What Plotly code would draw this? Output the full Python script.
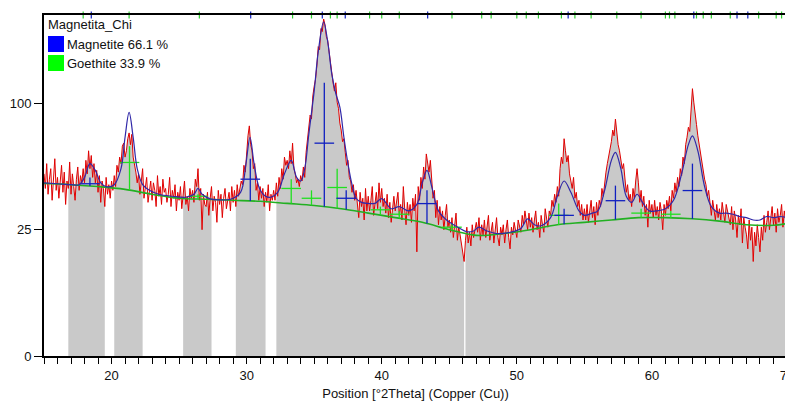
import numpy as np
import plotly.graph_objects as go

# ---------------- data ----------------
x_start, x_step = 15.0, 0.1
obs_counts = [
    52, 44, 58, 41, 49, 55, 38, 47, 61, 43,
    50, 39, 46, 57, 42, 53, 36, 48, 44, 59,
    41, 52, 45, 38, 49, 56, 43, 51, 47, 55,
    47, 60, 52, 66, 55, 63, 50, 58, 47, 54,
    42, 51, 37, 48, 44, 35, 50, 41, 46, 39,
    48, 43, 51, 45, 57, 53, 62, 58, 69, 71,
    62, 66, 74, 78, 70, 77, 62, 58, 53, 47,
    52, 41, 47, 55, 39, 46, 50, 37, 44, 48,
    38, 47, 43, 35, 51, 40, 45, 36, 49, 42,
    44, 37, 41, 50, 35, 43, 39, 46, 33, 42,
    38, 45, 34, 41, 48, 36, 40, 33, 44, 39,
    43, 37, 49, 45, 55, 38, 44, 25, 41, 36,
    35, 42, 31, 39, 45, 33, 40, 37, 28, 43,
    36, 41, 30, 39, 44, 34, 38, 42, 33, 45,
    37, 43, 35, 46, 40, 44, 48, 46, 57, 53,
    68, 76, 83, 70, 66, 55, 58, 43, 47, 38,
    45, 39, 44, 35, 42, 37, 46, 33, 41, 38,
    43, 38, 47, 40, 50, 44, 55, 49, 62, 57,
    60, 55, 66, 58, 71, 55, 52, 47, 49, 45,
    51, 48, 56, 50, 65, 73, 79, 91, 88, 106,
    114, 120, 132, 150, 147, 168, 165, 178, 172, 160,
    156, 145, 138, 124, 117, 110, 117, 101, 96, 85,
    80, 72, 74, 65, 57, 60, 50, 48, 42, 46,
    38, 43, 37, 30, 42, 35, 39, 29, 44, 33,
    40, 33, 38, 45, 31, 36, 42, 34, 47, 37,
    44, 35, 39, 32, 41, 30, 37, 28, 36, 40,
    33, 38, 42, 31, 36, 29, 45, 34, 27, 37,
    31, 36, 28, 39, 33, 41, 17, 45, 38, 50,
    44, 56, 49, 64, 57, 53, 60, 46, 39, 43,
    30, 38, 27, 35, 29, 33, 25, 31, 36, 26,
    29, 24, 30, 22, 27, 32, 21, 26, 23, 20,
    18, 14, 21, 26, 20, 24, 19, 27, 22, 25,
    28, 24, 30, 21, 27, 23, 29, 22, 26, 31,
    21, 25, 28, 20, 24, 30, 22, 19, 26, 23,
    27, 20, 25, 29, 22, 18, 26, 23, 28, 24,
    22, 29, 26, 24, 31, 27, 33, 28, 25, 32,
    26, 30, 24, 29, 33, 25, 28, 22, 31, 27,
    24, 34, 29, 26, 33, 31, 38, 35, 41, 37,
    45, 40, 55, 62, 58, 74, 66, 59, 63, 52,
    48, 44, 50, 39, 42, 35, 38, 31, 36, 29,
    34, 29, 36, 28, 33, 38, 30, 35, 27, 37,
    31, 38, 35, 44, 40, 47, 53, 58, 62, 67,
    72, 80, 76, 88, 78, 70, 66, 60, 55, 58,
    50, 42, 46, 38, 41, 35, 44, 39, 48, 55,
    47, 37, 43, 35, 40, 31, 36, 26, 38, 32,
    36, 30, 38, 31, 35, 29, 37, 33, 25, 36,
    31, 38, 34, 40, 33, 43, 39, 47, 42, 50,
    45, 55, 51, 62, 58, 70, 75, 82, 79, 95,
    112, 101, 90, 84, 76, 70, 64, 60, 52, 49,
    46, 40, 43, 37, 31, 38, 33, 29, 36, 30,
    34, 29, 37, 31, 28, 36, 33, 30, 27, 35,
    25, 33, 29, 22, 31, 27, 34, 20, 30, 26,
    23, 18, 29, 21, 26, 14, 24, 19, 27, 22,
    17, 26, 21, 31, 24, 28, 33, 25, 30, 35,
    27, 32, 24, 34, 28, 31, 36, 26, 33, 29,
    31,
]

calc_x = [15.0, 16.0, 17.0, 17.6, 18.0, 18.4, 18.8, 19.2, 19.6, 20.2,
          20.7, 21.0, 21.3, 21.6, 21.9, 22.3, 22.8, 23.5, 24.5, 25.5,
          26.1, 26.4, 26.7, 27.3, 28.0, 28.8, 29.55, 29.95, 30.25, 30.55,
          30.95, 31.4, 31.8, 32.3, 32.8, 33.3, 33.7, 34.0, 34.3, 34.6,
          35.0, 35.3, 35.7, 36.0, 36.3, 36.6, 36.9, 37.2, 37.5, 37.8,
          38.1, 38.5, 39.0, 39.5, 40.0, 40.7, 41.3, 42.0, 42.6, 43.0,
          43.35, 43.7, 44.2, 44.8, 45.7, 46.3, 46.8, 47.2, 47.8, 48.5,
          49.5, 50.3, 50.8, 51.3, 51.8, 52.5, 53.0, 53.5, 54.0, 54.6,
          55.0, 55.6, 56.0, 56.5, 57.0, 57.3, 57.7, 58.1, 58.5, 58.9,
          59.3, 59.8, 60.3, 61.0, 61.6, 62.2, 62.7, 63.0, 63.4, 63.9,
          64.4, 65.0, 65.5, 66.0, 66.5, 67.0, 67.5, 68.0, 68.5, 69.0,
          69.5, 70.0]
calc_counts = [47, 46.5, 46, 46, 50, 58, 54, 47, 45, 46,
               55, 75, 93, 75, 55, 46, 43, 41, 40, 39.5,
               41, 44, 41, 38.7, 38.2, 38.5, 42, 58, 75, 58,
               44, 40, 39.5, 42, 52, 60, 50, 48, 55, 77,
               110, 145, 175, 155, 125, 108, 97, 75, 58, 46,
               39, 37, 36.5, 36.5, 38.8, 34, 35, 33, 36, 47,
               54, 45, 33, 29, 25.8, 24.2, 24.5, 26, 24.5, 23.5,
               24, 25.5, 29.5, 27, 26.6, 30, 40, 48, 42, 33,
               31, 32, 33, 43, 60, 65, 55, 40, 37, 41,
               37, 33, 33, 34, 38, 52, 70, 76, 66, 45,
               35, 32, 32, 31.5, 30.5, 30, 29, 29, 30.5, 30,
               30.5, 30]

bg_x = [15, 17, 19, 21, 23, 25, 27, 29, 31, 33, 35, 37, 39, 41, 43,
        45, 47, 49, 51, 53, 55, 57, 59, 61, 63, 65, 67, 69, 70]
bg_counts = [46.6, 46, 45, 43.5, 41, 39, 38.5, 38, 37.5, 36.5, 35.5, 34, 32, 30, 28,
             25.0, 22.8, 23.5, 25, 27, 28, 29, 30, 30, 29.5, 28.5, 27, 26.8, 27.5]

# measured (grey-filled) ranges
band_start = [16.8, 20.2, 25.3, 29.2, 32.2, 46.2]
band_end = [19.5, 22.3, 27.4, 31.4, 46.1, 70.0]

# reference peak markers
mag_pos = [18.4, 30.27, 35.75, 37.37, 43.35, 53.5, 57.3, 63.0]
mag_top = [50, 61, 117, 43, 43, 34, 45.5, 58]
mag_bar = [46.5, 49, 71, 39, 36.4, 31, 37.8, 42.9]
goe_pos = [21.33, 26.4, 33.3, 34.8, 36.7, 39.9, 41.3, 45.2, 53.1, 59.2, 61.4]
goe_top = [69, 41, 49, 43, 55, 35, 33, 27.5, 36.4, 34, 33]
goe_bar = [58.7, 40, 44, 39, 44.5, 33.5, 31.5, 26, 31, 32, 31.5]

goe_ticks = [17.9, 21.3, 26.5, 33.4, 34.8, 36.2, 36.7, 39.1, 40.0, 41.3, 45.2, 47.4,
             48.1, 50.0, 50.7, 51.6, 53.3, 54.3, 55.5, 57.4, 59.2, 61.0, 61.3, 61.7,
             63.3, 63.8, 64.4, 65.8, 67.9, 69.2, 69.6, 69.9]
mag_ticks = [18.5, 30.3, 35.6, 37.3, 43.4, 53.8, 63.1, 66.3, 67.1]

legend_title = "Magnetita_Chi"
phase_names = ["Magnetite 66.1 %", "Goethite 33.9 %"]
phase_colors = ["#0000ff", "#00ff00"]

y_tick_counts = [0, 25, 100]
x_tick_vals = [20, 30, 40, 50, 60, 70]

# ---------------- figure ----------------
FONT = "Arial, Liberation Sans, sans-serif"
obs_x = np.round(x_start + x_step * np.arange(len(obs_counts)), 2)
obs = np.array(obs_counts, dtype=float)
sq = np.sqrt

fig = go.Figure()

# grey fill under the observed pattern in measured ranges
for a, b in zip(band_start, band_end):
    m = (obs_x >= a - 1e-9) & (obs_x <= b + 1e-9)
    fig.add_trace(go.Scatter(x=obs_x[m], y=sq(obs[m]), mode="lines",
                             line=dict(width=0, color="#c9c9c9"),
                             fill="tozeroy", fillcolor="#c9c9c9",
                             showlegend=False, hoverinfo="skip"))

# observed
fig.add_trace(go.Scatter(x=obs_x, y=sq(obs), mode="lines",
                         line=dict(color="#e00000", width=1),
                         showlegend=False))

# background
fig.add_trace(go.Scatter(x=bg_x, y=sq(np.array(bg_counts)), mode="lines",
                         line=dict(color="#22b022", width=1.6, shape="spline"),
                         showlegend=False))


def sticks(pos, top, bar, color):
    bgp = np.interp(pos, bg_x, bg_counts)
    xs, ys = [], []
    for p, t, b_low in zip(pos, top, bgp):
        xs += [p, p, None]
        ys += [sq(b_low), sq(t), None]
    fig.add_trace(go.Scatter(x=xs, y=ys, mode="lines",
                             line=dict(color=color, width=1.3),
                             showlegend=False, hoverinfo="skip"))
    fig.add_trace(go.Scatter(x=pos, y=sq(np.array(bar)), mode="markers",
                             marker=dict(symbol="line-ew", size=14,
                                         line=dict(color=color, width=1.3)),
                             showlegend=False, hoverinfo="skip"))


sticks(goe_pos, goe_top, goe_bar, "#20e020")
sticks(mag_pos, mag_top, mag_bar, "#1020c0")

# calculated profile
fig.add_trace(go.Scatter(x=calc_x, y=sq(np.array(calc_counts)), mode="lines",
                         line=dict(color="#3028a8", width=1.2, shape="spline"),
                         showlegend=False))

# top-axis reference ticks
ytop = 13.5
fig.add_trace(go.Scatter(x=goe_ticks, y=[ytop] * len(goe_ticks), mode="markers",
                         marker=dict(symbol="line-ns", size=5,
                                     line=dict(color="#30d030", width=1.2)),
                         cliponaxis=False, showlegend=False, hoverinfo="skip"))
fig.add_trace(go.Scatter(x=mag_ticks, y=[ytop] * len(mag_ticks), mode="markers",
                         marker=dict(symbol="line-ns", size=5,
                                     line=dict(color="#1020c0", width=1.2)),
                         cliponaxis=False, showlegend=False, hoverinfo="skip"))

# legend box (drawn inside the plot, top-left)
annotations = [dict(text=legend_title, xref="paper", yref="paper", x=0, y=1,
                    xanchor="left", yanchor="middle", xshift=2, yshift=-9,
                    showarrow=False, font=dict(size=13, color="#111"))]
shapes = []
for i, (name, col) in enumerate(zip(phase_names, phase_colors)):
    top_px = -21 - 19 * i
    shapes.append(dict(type="rect", xref="paper", yref="paper",
                       xsizemode="pixel", ysizemode="pixel", xanchor=0, yanchor=1,
                       x0=4, x1=20, y0=top_px - 16, y1=top_px,
                       fillcolor=col, line=dict(width=0)))
    annotations.append(dict(text=name, xref="paper", yref="paper", x=0, y=1,
                            xanchor="left", yanchor="middle", xshift=21,
                            yshift=top_px - 8, showarrow=False,
                            font=dict(size=13, color="#111")))

# the page places the figure 8 px from the top-left corner of the window
fig.update_layout(
    width=785, height=393,
    margin=dict(l=36, r=6, t=7, b=45, autoexpand=False),
    paper_bgcolor="white", plot_bgcolor="white",
    font=dict(family=FONT, size=13, color="#111"),
    showlegend=False,
    annotations=annotations, shapes=shapes,
    xaxis=dict(range=[15, 70], tickvals=x_tick_vals, ticks="outside", ticklen=6,
               tickwidth=1, tickcolor="black", showline=True, linecolor="black",
               linewidth=2, mirror=True, showgrid=False, zeroline=False,
               automargin=False, ticklabeloverflow="allow",
               minor=dict(dtick=1, ticks="outside", ticklen=6, tickwidth=1,
                          tickcolor="black", showgrid=False),
               title=dict(text="Position [°2Theta] (Copper (Cu))", standoff=7,
                          font=dict(size=13))),
    yaxis=dict(range=[0, 13.5], tickvals=[sq(v) for v in y_tick_counts],
               ticktext=[str(v) for v in y_tick_counts], ticks="outside",
               ticklen=8, tickwidth=1, tickcolor="black", showline=True,
               linecolor="black", linewidth=2, mirror=True, showgrid=False,
               zeroline=False, automargin=False),
)

fig.write_html("out.html")
